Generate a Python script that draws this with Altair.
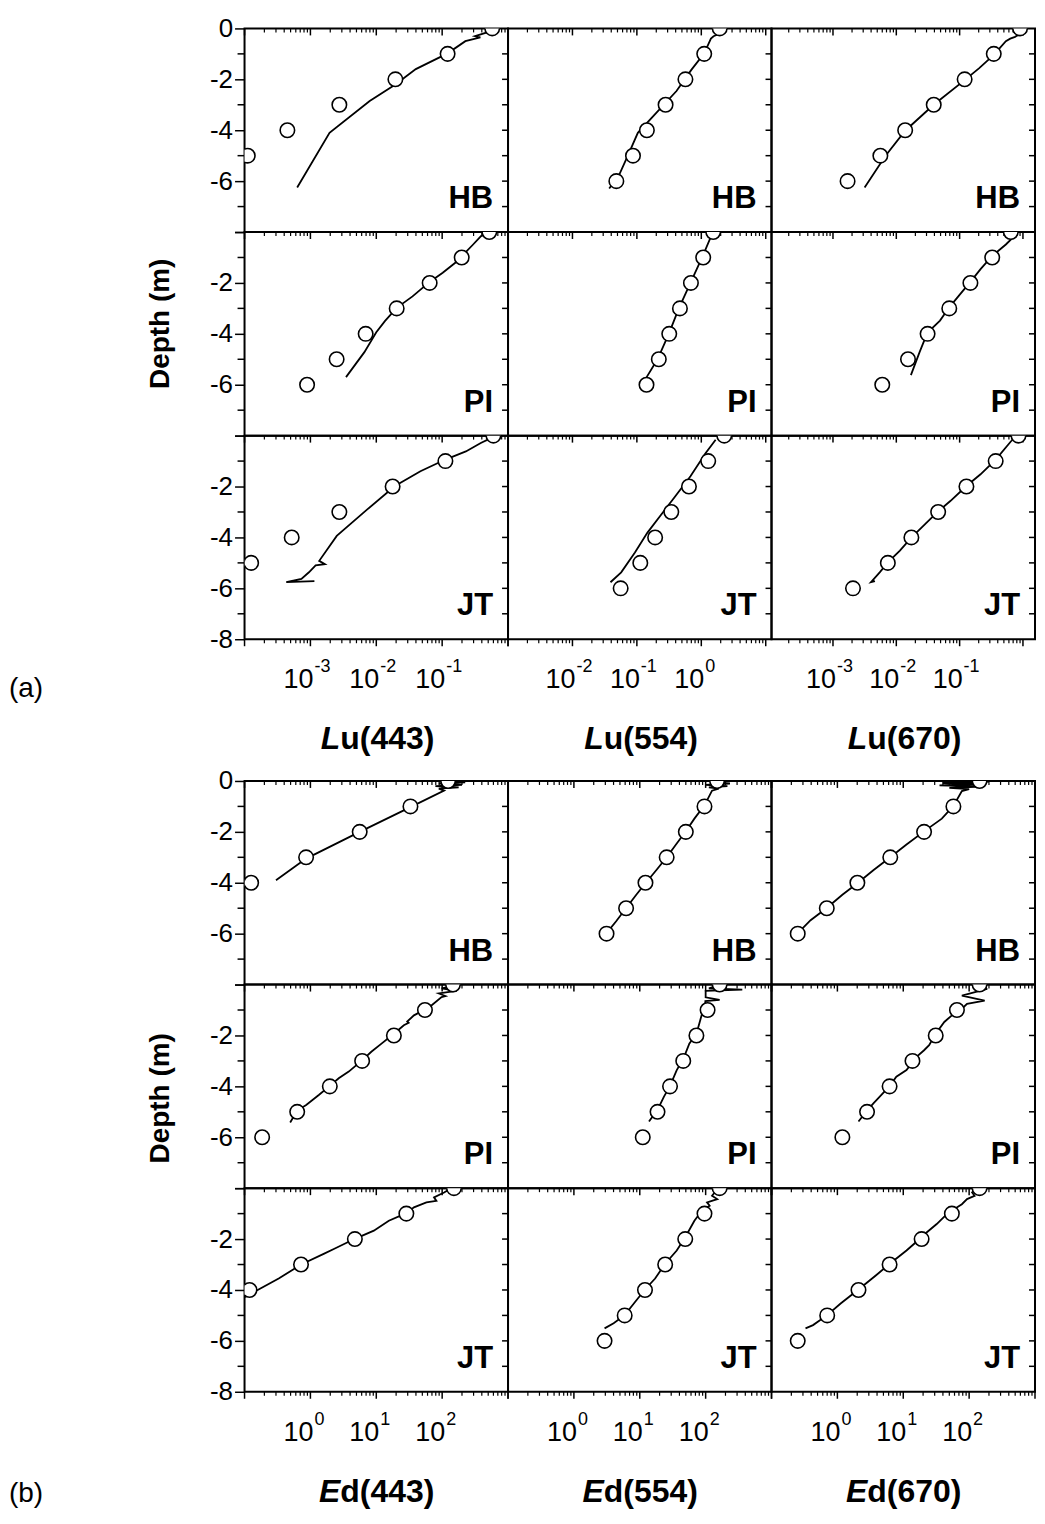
import math
import altair as alt
import pandas as pd

FONT = "Liberation Sans"
W, H = 264, 204
GAP = 142

DEPTHS = [0, -1, -2, -3, -4, -5, -6]
SITES = ["HB", "PI", "JT"]

# ---------------- (a) Lu ----------------
lu443_hb_pts = [0.575, 0.121, 0.0195, 0.00275, 0.000447, 0.000112]
lu443_hb_z = [-0.05, -0.12, -0.3, -0.35, -0.5, -0.98, -1.6, -2.2, -2.85, -4.1, -6.25]
lu443_hb_v = [0.562, 0.537, 0.316, 0.38, 0.225, 0.121, 0.0398, 0.0195, 0.00794, 0.00195, 0.00063]

lu443_pi_pts = [0.52, 0.198, 0.0646, 0.0204, 0.0069, 0.0025, 0.00089]
lu443_pi_z = [-0.05, -0.16, -0.49, -1.2, -1.6, -1.96, -2.53, -2.98, -3.5, -3.94, -4.72, -5.7]
lu443_pi_v = [0.5, 0.389, 0.295, 0.16, 0.102, 0.0646, 0.0355, 0.0204, 0.0135, 0.01, 0.0066, 0.00347]

lu443_jt_pts = [0.60, 0.112, 0.0177, 0.00275, 0.00052, 0.000126]
lu443_jt_z = [-0.1, -0.29, -0.62, -0.94, -1.4, -1.98, -2.9, -3.94, -4.92, -5.05, -5.1, -5.37, -5.63, -5.76, -5.72]
lu443_jt_v = [0.55, 0.386, 0.229, 0.112, 0.0468, 0.0192, 0.0073, 0.00251, 0.00136, 0.00166, 0.0012, 0.00095, 0.00073, 0.00043, 0.00115]

lu554_hb_pts = [1.93, 1.11, 0.567, 0.279, 0.143, 0.087, 0.048]
lu554_hb_z = [-0.1, -0.25, -0.31, -0.4, -0.98, -1.63, -2.46, -3.32, -4.1, -5.0, -5.78, -6.29]
lu554_hb_v = [1.86, 1.74, 1.55, 1.41, 1.11, 0.70, 0.412, 0.20, 0.1035, 0.0724, 0.0525, 0.0372]

lu554_pi_pts = [1.53, 1.07, 0.69, 0.466, 0.318, 0.219, 0.141]
lu554_pi_z = [-0.05, -0.1, -0.2, -1.0, -2.0, -3.0, -4.0, -5.0, -5.75]
lu554_pi_v = [1.58, 1.48, 1.40, 1.03, 0.679, 0.448, 0.313, 0.209, 0.138]

lu554_jt_pts = [2.27, 1.28, 0.643, 0.342, 0.192, 0.113, 0.056]
lu554_jt_z = [-0.16, -0.68, -1.6, -2.38, -3.03, -3.81, -4.59, -5.37, -5.76]
lu554_jt_v = [1.67, 1.17, 0.679, 0.395, 0.251, 0.146, 0.0933, 0.0571, 0.0389]

lu670_hb_pts = [0.90, 0.346, 0.12, 0.039, 0.0138, 0.0056, 0.0017]
lu670_hb_z = [-0.1, -0.26, -0.33, -0.4, -0.5, -1.04, -1.56, -2.03, -3.0, -4.02, -5.0, -6.25]
lu670_hb_v = [0.891, 0.836, 0.75, 0.63, 0.537, 0.346, 0.204, 0.12, 0.0389, 0.0138, 0.00676, 0.00316]

lu670_pi_pts = [0.643, 0.327, 0.148, 0.0686, 0.0312, 0.0153, 0.006]
lu670_pi_z = [-0.1, -0.49, -0.94, -1.46, -1.96, -2.44, -2.96, -3.48, -3.96, -4.71, -5.62]
lu670_pi_v = [0.773, 0.537, 0.327, 0.214, 0.148, 0.102, 0.0686, 0.049, 0.0309, 0.0234, 0.017]

lu670_jt_pts = [0.85, 0.371, 0.128, 0.0458, 0.0173, 0.00735, 0.00207]
lu670_jt_z = [-0.05, -0.23, -0.94, -1.52, -1.98, -2.57, -2.98, -3.48, -4.0, -4.52, -4.98, -5.37, -5.76, -5.72]
lu670_jt_v = [0.75, 0.643, 0.371, 0.214, 0.128, 0.0713, 0.0457, 0.0285, 0.0174, 0.0114, 0.00735, 0.00547, 0.00398, 0.0046]

# ---------------- (b) Ed ----------------
ed443_hb_pts = [123, 33, 5.6, 0.86, 0.126]
ed443_hb_z = [-0.05, -0.1, -0.15, -0.2, -0.25, -0.3, -0.38, -1.03, -2.0, -3.05, -3.9]
ed443_hb_v = [224, 89, 200, 79, 178, 89, 107, 33, 5.6, 0.86, 0.30]

ed443_pi_pts = [146, 54.8, 18.5, 6.1, 1.97, 0.63, 0.185]
ed443_pi_z = [-0.05, -0.15, -0.25, -0.35, -0.45, -0.49, -0.82, -0.98, -1.21, -1.45, -1.5, -1.6,
              -1.93, -2.32, -2.64, -2.97, -3.42, -3.68, -3.98, -4.34, -4.73, -4.95, -5.42]
ed443_pi_v = [151, 98, 166, 89, 112, 98, 68.7, 54.8, 37.3, 29.5, 31, 26.2,
              18.5, 12.0, 8.41, 6.14, 3.82, 2.69, 1.97, 1.34, 0.863, 0.63, 0.493]

ed443_jt_pts = [151, 28.6, 4.73, 0.72, 0.119]
ed443_jt_z = [0.0, -0.17, -0.36, -0.5, -0.56, -0.755, -0.98, -1.28, -1.67, -1.99, -2.38, -2.58, -3.0, -3.55, -4.2, -4.28]
ed443_jt_v = [138, 107, 75.2, 81.8, 57.7, 37.3, 28.6, 15.5, 9.18, 4.73, 2.31, 1.59, 0.724, 0.33, 0.115, 0.1]

ed554_hb_pts = [149, 96, 50, 25.6, 12.2, 6.2, 3.13]
ed554_hb_z = [-0.05, -0.1, -0.15, -0.2, -0.25, -0.3, -0.38, -0.96, -1.48, -1.98, -2.46, -3.0,
              -3.5, -4.02, -4.47, -4.99, -5.51, -5.98]
ed554_hb_v = [126, 234, 100, 214, 112, 158, 125, 96, 67.5, 50.1, 36.4, 25.6,
              17.9, 12.2, 8.85, 6.22, 4.38, 3.13]

ed554_pi_pts = [163, 107, 72.4, 45.7, 28.8, 18.6, 11.1]
ed554_pi_z = [-0.04, -0.15, -0.2, -0.25, -0.5, -0.6, -0.65, -0.95, -1.15, -1.54, -1.93, -2.32,
              -2.93, -3.36, -3.98, -4.4, -4.92, -5.38]
ed554_pi_v = [150, 112, 360, 100, 100, 163, 99, 99, 88, 80, 72.4, 56.5,
              45.7, 36.4, 28.8, 23.3, 18.6, 13.8]

ed554_jt_pts = [163, 96, 49, 24.3, 12, 5.9, 2.92]
ed554_jt_z = [-0.04, -0.3, -0.43, -0.56, -0.69, -0.88, -1.28, -1.93, -2.45, -2.97, -3.55, -3.98,
              -4.53, -4.99, -5.31, -5.51]
ed554_jt_v = [150, 125, 150, 105, 115, 88, 67.5, 49, 36.4, 24.3, 17.1, 12.0,
              8.13, 5.9, 4.01, 2.92]

ed670_hb_pts = [144, 57.7, 20.7, 6.35, 2.01, 0.69, 0.25]
ed670_hb_z = [-0.03, -0.08, -0.12, -0.17, -0.22, -0.27, -0.32, -0.4, -0.98, -1.48, -1.98, -2.5,
              -3.0, -3.5, -4.02, -4.47, -4.99, -5.47, -5.98]
ed670_hb_v = [200, 39.8, 178, 35.5, 158, 50.1, 100, 77.6, 57.7, 38.5, 20.7, 11.2,
              6.35, 3.55, 2.01, 1.19, 0.689, 0.392, 0.251]

ed670_pi_pts = [144, 65.3, 31.1, 13.8, 6.2, 2.82, 1.19]
ed670_pi_z = [-0.04, -0.17, -0.43, -0.63, -0.76, -0.95, -1.21, -1.47, -1.93, -2.38, -2.58, -2.84,
              -3.36, -3.62, -3.98, -4.34, -4.66, -4.95, -5.38]
ed670_pi_v = [111, 188, 77.6, 172, 92.9, 77.6, 54.7, 42, 31.1, 24.7, 20.7, 15.9,
              11.2, 7.85, 6.24, 4.62, 3.55, 2.82, 2.09]

ed670_jt_pts = [144, 54.7, 19, 6.2, 2.09, 0.70, 0.25]
ed670_jt_z = [0, -0.17, -0.3, -0.43, -0.63, -0.82, -1.02, -1.41, -1.74, -1.93, -2.45, -2.97,
              -3.42, -3.98, -4.53, -4.99, -5.38, -5.51]
ed670_jt_v = [132, 111, 121, 92.9, 77.6, 59.7, 45.9, 32.2, 22.6, 19.0, 11.2, 6.24,
              3.87, 2.09, 1.12, 0.70, 0.427, 0.328]

# x domains and labelled decades per column
lu_domains = [[1e-4, 1.0], [1e-3, 12.3], [1.07e-4, 1.55]]
ed_domains = [[0.1, 1000], [0.1, 1000], [0.1, 1000]]
lu_label_exps = [[-3, -2, -1], [-2, -1, 0], [-3, -2, -1]]
ed_label_exps = [[0, 1, 2], [0, 1, 2], [0, 1, 2]]
lu_titles = [("L", "u(443)"), ("L", "u(554)"), ("L", "u(670)")]
ed_titles = [("E", "d(443)"), ("E", "d(554)"), ("E", "d(670)")]

LU = [
    [(lu443_hb_pts, lu443_hb_z, lu443_hb_v), (lu554_hb_pts, lu554_hb_z, lu554_hb_v), (lu670_hb_pts, lu670_hb_z, lu670_hb_v)],
    [(lu443_pi_pts, lu443_pi_z, lu443_pi_v), (lu554_pi_pts, lu554_pi_z, lu554_pi_v), (lu670_pi_pts, lu670_pi_z, lu670_pi_v)],
    [(lu443_jt_pts, lu443_jt_z, lu443_jt_v), (lu554_jt_pts, lu554_jt_z, lu554_jt_v), (lu670_jt_pts, lu670_jt_z, lu670_jt_v)],
]
ED = [
    [(ed443_hb_pts, ed443_hb_z, ed443_hb_v), (ed554_hb_pts, ed554_hb_z, ed554_hb_v), (ed670_hb_pts, ed670_hb_z, ed670_hb_v)],
    [(ed443_pi_pts, ed443_pi_z, ed443_pi_v), (ed554_pi_pts, ed554_pi_z, ed554_pi_v), (ed670_pi_pts, ed670_pi_z, ed670_pi_v)],
    [(ed443_jt_pts, ed443_jt_z, ed443_jt_v), (ed554_jt_pts, ed554_jt_z, ed554_jt_v), (ed670_jt_pts, ed670_jt_z, ed670_jt_v)],
]


def log_ticks(lo, hi):
    majors, minors = [], []
    for k in range(math.floor(math.log10(lo)) - 1, math.ceil(math.log10(hi)) + 1):
        for m in range(1, 10):
            v = m * 10.0 ** k
            if lo * 0.999 <= v <= hi * 1.001:
                (majors if m == 1 else minors).append(v)
    return majors, minors


def one():
    return pd.DataFrame({"a": [0]})


def txt(text, x, y, size, weight="bold", style="normal", align="center",
        baseline="alphabetic", angle=0):
    kw = dict(font=FONT, fontSize=size, fontWeight=weight, fontStyle=style,
              align=align, baseline=baseline, color="black")
    if angle:
        kw["angle"] = angle
    return alt.Chart(one()).mark_text(**kw).encode(
        x=alt.value(x), y=alt.value(y), text=alt.value(text))


def panel(block, r, c):
    pts, lz, lv = (LU if block == 0 else ED)[r][c]
    dom = (lu_domains if block == 0 else ed_domains)[c]
    xs = alt.Scale(type="log", domain=dom, nice=False)
    ys = alt.Scale(domain=[-8, 0], nice=False, zero=False)

    if c == 0:
        if r == 0:
            expr = "datum.value == -8 ? '' : '' + datum.value"
        elif r == 1:
            expr = "(datum.value == -8 || datum.value == 0) ? '' : '' + datum.value"
        else:
            expr = "datum.value == 0 ? '' : '' + datum.value"
        yaxis = alt.Axis(values=[-8, -6, -4, -2, 0], labelExpr=expr, tickSize=10,
                         tickWidth=1.5, tickColor="black", domain=False, grid=False,
                         labelFont=FONT, labelFontSize=26, labelColor="black",
                         labelPadding=2, title=None)
    else:
        yaxis = None

    X = alt.X("v:Q", scale=xs, axis=None)
    Y = alt.Y("z:Q", scale=ys, axis=yaxis)

    majors, minors = log_ticks(*dom)
    layers = []
    maj_df = pd.DataFrame({"v": majors})
    min_df = pd.DataFrame({"v": minors})
    # top ticks (inward)
    layers.append(alt.Chart(maj_df).mark_rule(color="black", strokeWidth=1.5).encode(
        x=X, y=alt.value(0), y2=alt.value(7)))
    layers.append(alt.Chart(min_df).mark_rule(color="black", strokeWidth=1.2).encode(
        x=X, y=alt.value(0), y2=alt.value(4)))
    if r == 2:
        layers.append(alt.Chart(maj_df).mark_rule(color="black", strokeWidth=1.5).encode(
            x=X, y=alt.value(H), y2=alt.value(H + 7)))
        layers.append(alt.Chart(min_df).mark_rule(color="black", strokeWidth=1.2).encode(
            x=X, y=alt.value(H), y2=alt.value(H + 4)))
    # right ticks (inward)
    layers.append(alt.Chart(pd.DataFrame({"z": list(range(-7, 0))})).mark_rule(
        color="black", strokeWidth=1.5).encode(y=Y, x=alt.value(W), x2=alt.value(W - 6)))
    if c == 0:
        layers.append(alt.Chart(pd.DataFrame({"z": [-7, -5, -3, -1]})).mark_rule(
            color="black", strokeWidth=1.5).encode(y=Y, x=alt.value(-7), x2=alt.value(0)))

    line_df = pd.DataFrame({"i": list(range(len(lz))), "z": lz, "v": lv})
    layers.append(alt.Chart(line_df).mark_line(color="black", strokeWidth=1.8, clip=True).encode(
        x=X, y=Y, order="i:Q"))
    pt_df = pd.DataFrame({"z": DEPTHS[:len(pts)], "v": pts})
    layers.append(alt.Chart(pt_df).mark_point(shape="circle", size=210, filled=True, fill="white",
                                              stroke="black", strokeWidth=1.6, opacity=1,
                                              clip=True).encode(x=X, y=Y))
    layers.append(txt(SITES[r], W - 15, H - 24, 31, align="right"))

    if r == 2:
        exps = (lu_label_exps if block == 0 else ed_label_exps)[c]
        lab_df = pd.DataFrame({"v": [10.0 ** e for e in exps], "e": [str(e) for e in exps]})
        layers.append(alt.Chart(lab_df).mark_text(font=FONT, fontSize=27, align="right",
                                                  baseline="alphabetic", dx=3, color="black").encode(
            x=X, y=alt.value(H + 49), text=alt.value("10")))
        layers.append(alt.Chart(lab_df).mark_text(font=FONT, fontSize=18, align="left",
                                                  baseline="alphabetic", dx=4, color="black").encode(
            x=X, y=alt.value(H + 33), text="e:N"))
        t1, t2 = (lu_titles if block == 0 else ed_titles)[c]
        layers.append(txt(t1, W / 2 - 36, H + 110, 32, style="italic", align="right"))
        layers.append(txt(t2, W / 2 - 36, H + 110, 32, align="left"))
        if c == 0:
            if block == 0:
                layers.append(txt("(a)", -236, H + 50, 28, weight="normal", align="left",
                                  baseline="middle"))
            else:
                layers.append(txt("(b)", -236, H + 102, 28, weight="normal", align="left",
                                  baseline="middle"))
    if r == 1 and c == 0:
        dy = -10 if block == 0 else 12
        layers.append(txt("Depth (m)", -84, H / 2 + dy, 28, align="center",
                          baseline="middle", angle=270))

    return alt.layer(*layers).properties(width=W, height=H)


def spacer():
    return alt.Chart(one()).mark_text(text="").encode(
        x=alt.value(0), y=alt.value(0)).properties(
        width=W, height=GAP, view=alt.ViewBackground(stroke="transparent"))


cells = []
for r in range(3):
    for c in range(3):
        cells.append(panel(0, r, c))
for c in range(3):
    cells.append(spacer())
for r in range(3):
    for c in range(3):
        cells.append(panel(1, r, c))

chart = alt.concat(*cells, columns=3, spacing=0, bounds="flush").properties(
    padding={"left": 0, "top": 5, "right": 0, "bottom": 2},
    background="white",
).configure_view(stroke="black", strokeWidth=2)

chart.save("out.html", embed_options={"renderer": "svg", "actions": False})
